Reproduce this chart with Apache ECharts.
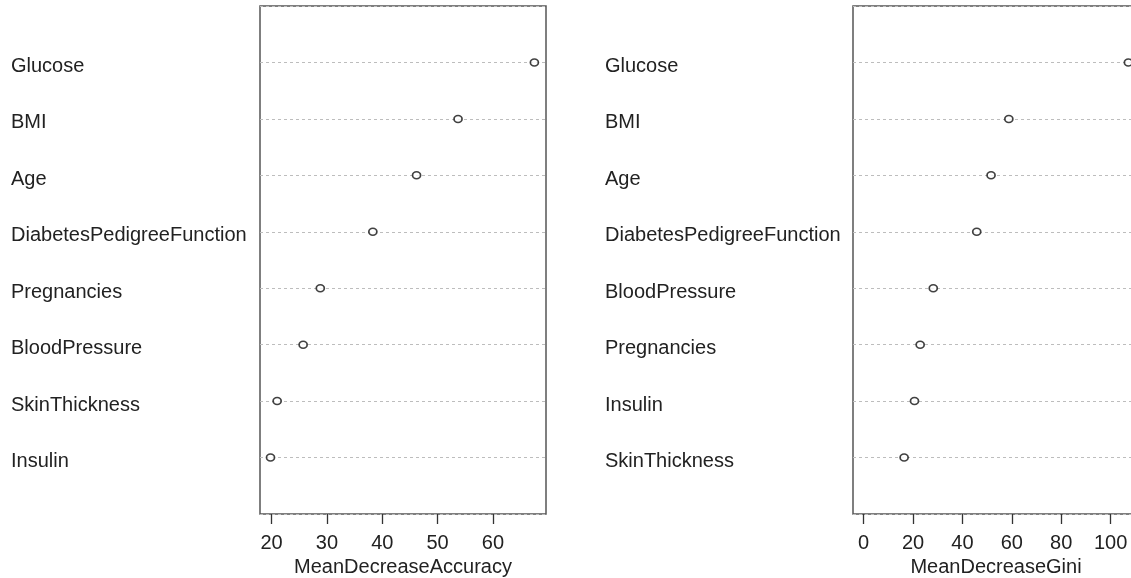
<!DOCTYPE html>
<html>
<head>
<meta charset="utf-8">
<script src="https://cdn.jsdelivr.net/npm/echarts@6/dist/echarts.min.js"></script>
<style>
html,body{margin:0;padding:0;background:#fff;}
#chart{width:1131px;height:578px;}
</style>
</head>
<body>
<div id="chart"></div>
<script>
// Data (top to bottom as shown)
const accLabels = ['Glucose','BMI','Age','DiabetesPedigreeFunction','Pregnancies','BloodPressure','SkinThickness','Insulin'];
const accValues = [67.5, 53.7, 46.2, 38.3, 28.8, 25.7, 21.0, 19.8];
const giniLabels = ['Glucose','BMI','Age','DiabetesPedigreeFunction','BloodPressure','Pregnancies','Insulin','SkinThickness'];
const giniValues = [107.2, 58.8, 51.6, 45.8, 28.2, 22.9, 20.6, 16.4];
const accTicks = [20, 30, 40, 50, 60];
const giniTicks = [0, 20, 40, 60, 80, 100];
const accTitle = 'MeanDecreaseAccuracy';
const giniTitle = 'MeanDecreaseGini';

// category axis (bottom to top), padded with empty slots at both ends
const accCats = [''].concat(accLabels.slice().reverse(), ['']);
const giniCats = [''].concat(giniLabels.slice().reverse(), ['']);
const accData = accLabels.map((l, i) => [accValues[i], l]);
const giniData = giniLabels.map((l, i) => [giniValues[i], l]);

const FONT = '"Liberation Sans", Arial, sans-serif';
const textColor = '#222';
const FS = 20;

function yAxis(gridIndex, cats, margin) {
  return {
    type: 'category', gridIndex, data: cats, boundaryGap: false,
    axisLine: {show: false}, axisTick: {show: false},
    axisLabel: {interval: 0, align: 'left', verticalAlign: 'top', lineHeight: 8, margin, fontFamily: FONT, fontSize: FS, color: textColor},
    splitLine: {show: true, interval: 0, lineStyle: {type: [3, 3], color: '#bdbdbd', width: 1}}
  };
}
function xAxis(gridIndex, min, max, ticks, name) {
  return {
    type: 'value', gridIndex, min, max, name, nameLocation: 'middle', nameGap: 43,
    nameTextStyle: {fontFamily: FONT, fontSize: FS, color: textColor},
    axisLine: {show: false},
    axisTick: {show: true, inside: false, length: 10, customValues: ticks, lineStyle: {color: '#333', width: 1.3}},
    axisLabel: {show: true, customValues: ticks, margin: 19, fontFamily: FONT, fontSize: FS, color: textColor},
    splitLine: {show: false}
  };
}
function series(xi, data) {
  return {
    type: 'scatter', xAxisIndex: xi, yAxisIndex: xi, data,
    symbol: 'circle', symbolSize: [8, 7],
    itemStyle: {color: '#fff', borderColor: '#111', borderWidth: 1.6},
    emphasis: {disabled: true}, z: 5
  };
}

const chart = echarts.init(document.getElementById('chart'), null, {renderer: 'canvas'});
chart.setOption({
  backgroundColor: '#fff',
  animation: false,
  grid: [
    {left: 260, width: 286, top: 6, height: 508, show: true, borderColor: '#555', borderWidth: 1.5, backgroundColor: 'transparent', containLabel: false, outerBoundsMode: 'none'},
    {left: 853, width: 286, top: 6, height: 508, show: true, borderColor: '#555', borderWidth: 1.5, backgroundColor: 'transparent', containLabel: false, outerBoundsMode: 'none'}
  ],
  xAxis: [
    xAxis(0, 17.9, 69.6, accTicks, accTitle),
    xAxis(1, -4.3, 111.5, giniTicks, giniTitle)
  ],
  yAxis: [
    yAxis(0, accCats, 249),
    yAxis(1, giniCats, 248)
  ],
  series: [series(0, accData), series(1, giniData)]
});
</script>
</body>
</html>
